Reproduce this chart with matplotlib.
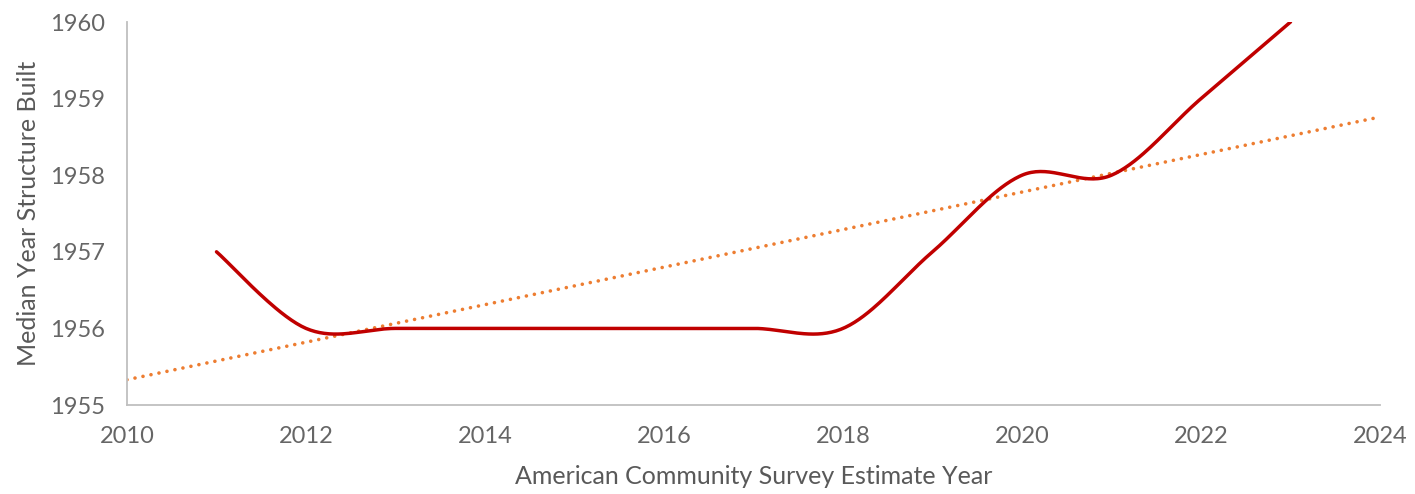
import numpy as np
import matplotlib
matplotlib.use('Agg')
import matplotlib.pyplot as plt

years = [2011, 2012, 2013, 2014, 2015, 2016, 2017, 2018, 2019, 2020, 2021, 2022, 2023]
median_built = [1957, 1956, 1956, 1956, 1956, 1956, 1956, 1956, 1957, 1958, 1958, 1959, 1960]

# trendline as shown in the chart
trend_years = [2010, 2024]
trend_values = [1955.33, 1958.76]

x_ticks = [2010, 2012, 2014, 2016, 2018, 2020, 2022, 2024]
y_ticks = [1955, 1956, 1957, 1958, 1959, 1960]


def smooth(xs, ys, n=40):
    # Excel-style smoothed line: Bezier segments with Catmull-Rom control points
    p = np.column_stack([xs, ys]).astype(float)
    pts = []
    for i in range(len(p) - 1):
        p0 = p[i - 1] if i > 0 else p[i]
        p1 = p[i]
        p2 = p[i + 1]
        p3 = p[i + 2] if i + 2 < len(p) else p[i + 1]
        c1 = p1 + (p2 - p0) / 6
        c2 = p2 - (p3 - p1) / 6
        t = np.linspace(0, 1, n)[:, None]
        seg = (1 - t) ** 3 * p1 + 3 * (1 - t) ** 2 * t * c1 + 3 * (1 - t) * t ** 2 * c2 + t ** 3 * p2
        pts.append(seg if i == 0 else seg[1:])
    pts = np.vstack(pts)
    return pts[:, 0], pts[:, 1]


plt.rcParams['font.family'] = ['Lato', 'DejaVu Sans']
grey = '#595959'

fig = plt.figure(figsize=(14.15, 4.94), dpi=100)
ax = fig.add_axes([127 / 1415, 89 / 494, 1253 / 1415, 383 / 494])

sx, sy = smooth(years, median_built)
ax.plot(sx, sy, color='#C00000', linewidth=2.5, solid_capstyle='round', zorder=3)
ax.plot(trend_years, trend_values, color='#ED7D31', linewidth=2.6,
        linestyle=(0, (0.01, 2.25)), dash_capstyle='round', zorder=2)

ax.set_xlim(2010, 2024)
ax.set_ylim(1955, 1960)
ax.set_xticks(x_ticks)
ax.set_yticks(y_ticks)
ax.tick_params(length=0, labelsize=17, colors='#666666')
ax.tick_params(axis='x', pad=15)
ax.tick_params(axis='y', pad=16)

for s in ['top', 'right']:
    ax.spines[s].set_visible(False)
for s in ['left', 'bottom']:
    ax.spines[s].set_color('#BFBFBF')
    ax.spines[s].set_linewidth(1.3)

ax.set_xlabel('American Community Survey Estimate Year', fontsize=18, color=grey, labelpad=13)
ax.set_ylabel('Median Year Structure Built', fontsize=18, color=grey, labelpad=7)

fig.savefig('out.png', dpi=100)
